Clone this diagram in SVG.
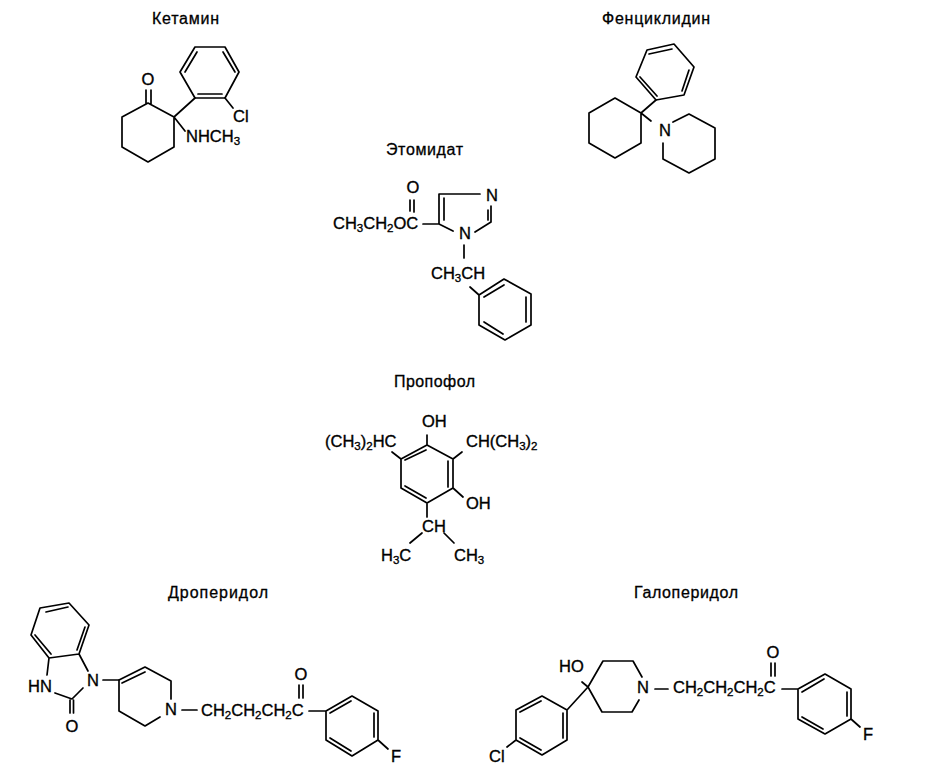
<svg xmlns="http://www.w3.org/2000/svg" width="927" height="780" viewBox="0 0 927 780">
<style>
text{font-family:"Liberation Sans",Arial,sans-serif;fill:#000;stroke:#000;stroke-width:.35}
.t{font-size:16px;stroke-width:.3}
.a{font-size:16.500px}
.s{font-size:11.500px}
path{fill:none;stroke:#000;stroke-width:1.7;stroke-linejoin:round;stroke-linecap:round}
</style>
<rect width="927" height="780" fill="#fff"/>
<g id="ketamine">
<text class="t" x="152" y="24" textLength="67">Кетамин</text>
<path d="M195 47H225L239 72L225 98H195L180 72ZM185 72L197 52M223 52L235 72M198 94H222"/>
<path d="M174 117L148 103L122 117V147L148 162L174 147ZM146 90V103M151 90V104M174 117L195 98M225 98L233 108M174 117L185 131"/>
<text class="a" x="148" y="85" text-anchor="middle">O</text>
<text class="a" x="233" y="122">Cl</text>
<text class="a" x="186" y="142">NHCH<tspan class="s" dy="3">3</tspan></text>
</g>
<g id="phencyclidine">
<text class="t" x="602" y="24" textLength="108">Фенциклидин</text>
<path d="M647 50L674 44L694 67L684 95L656 100L636 77ZM649 54L672 49M689 70L682 91M640 77L657 96"/>
<path d="M641 113L615 98L589 113V143L615 158L641 143ZM641 113L656 100M641 113L651 121"/>
<path d="M673 122L689 114L715 128V159L689 173L663 159V143"/>
<text class="a" x="665" y="136" text-anchor="middle">N</text>
</g>
<g id="etomidate">
<text class="t" x="386" y="155" textLength="77">Этомидат</text>
<text class="a" x="413" y="193" text-anchor="middle">O</text>
<path d="M410 200V211M414 200V212M423 224H439M439 224V194H480M444 198V220M491 206V222M488 210V220M491 222L475 232M453 231L439 224M464 245V258"/>
<text class="a" x="492" y="201" text-anchor="middle">N</text>
<text class="a" x="465" y="239" text-anchor="middle">N</text>
<text class="a" x="333" y="229">CH<tspan class="s" dy="3">3</tspan><tspan dy="-3">CH</tspan><tspan class="s" dy="3">2</tspan><tspan dy="-3">OC</tspan></text>
<text class="a" x="431" y="279">CH<tspan class="s" dy="3">3</tspan><tspan dy="-3">CH</tspan></text>
<path d="M470 287L479 295L504 279L531 294V325L505 340L479 325V295M484 297L504 285M526 297V322M484 322L503 334"/>
</g>
<g id="propofol">
<text class="t" x="394" y="387" textLength="81">Пропофол</text>
<path d="M427 445L453 459V488L427 503L401 488V459ZM405 460L426 450M448 461V487M405 486L426 498M427 445V435M401 459L392 452M453 459L462 452M453 488L463 497M427 503V517M422 533L410 543M444 533L454 543"/>
<text class="a" x="422" y="427">OH</text>
<text class="a" x="325" y="447">(CH<tspan class="s" dy="3">3</tspan><tspan dy="-3">)</tspan><tspan class="s" dy="3">2</tspan><tspan dy="-3">HC</tspan></text>
<text class="a" x="466" y="447">CH(CH<tspan class="s" dy="3">3</tspan><tspan dy="-3">)</tspan><tspan class="s" dy="3">2</tspan></text>
<text class="a" x="466" y="509">OH</text>
<text class="a" x="422" y="532">CH</text>
<text class="a" x="381" y="561">H<tspan class="s" dy="3">3</tspan><tspan dy="-3">C</tspan></text>
<text class="a" x="454" y="561">CH<tspan class="s" dy="3">3</tspan></text>
</g>
<g id="droperidol">
<text class="t" x="168" y="598" textLength="100">Дроперидол</text>
<path d="M69 603L40 608L31 635L49 658L79 654L89 625ZM46 612L68 607M35 635L51 654M85 627L77 650M79 654L88 671M49 658L47 675M55 693L72 699L83 688M70 700V713M73.500 700V713M103 680H119"/>
<text class="a" x="28" y="692">HN</text>
<text class="a" x="93" y="686" text-anchor="middle">N</text>
<text class="a" x="72" y="732" text-anchor="middle">O</text>
<path d="M119 680L145 667L171 681V699M160 717L145 726L119 711V680M122 683L145 672M182 710H197"/>
<text class="a" x="171" y="715" text-anchor="middle">N</text>
<text class="a" x="201" y="716">CH<tspan class="s" dy="3">2</tspan><tspan dy="-3">CH</tspan><tspan class="s" dy="3">2</tspan><tspan dy="-3">CH</tspan><tspan class="s" dy="3">2</tspan><tspan dy="-3">C</tspan></text>
<text class="a" x="301" y="680" text-anchor="middle">O</text>
<path d="M299 685V698M303 685V698M309 711H326L352 696L378 711V740L352 756L326 740V711M330 713L351 701M374 713V737M330 738L351 751M378 740L388 749"/>
<text class="a" x="391" y="762">F</text>
</g>
<g id="haloperidol">
<text class="t" x="634" y="598" textLength="104">Галоперидол</text>
<text class="a" x="559" y="672">HO</text>
<path d="M588 687L603 661H633L642 677M639 700L632 712H602L588 687M588 687L582 682M655 689H668M588 687L567 710L542 696L516 710V740L542 755L567 740V710M520 712L541 701M520 738L541 750M563 713V738M516 740L507 747"/>
<text class="a" x="643" y="693" text-anchor="middle">N</text>
<text class="a" x="489" y="762">Cl</text>
<text class="a" x="673" y="693">CH<tspan class="s" dy="3">2</tspan><tspan dy="-3">CH</tspan><tspan class="s" dy="3">2</tspan><tspan dy="-3">CH</tspan><tspan class="s" dy="3">2</tspan><tspan dy="-3">C</tspan></text>
<text class="a" x="773" y="658" text-anchor="middle">O</text>
<path d="M771 663V676M775 663V676M782 689H798L825 674L851 689V719L825 734L798 719V689M802 692L824 679M847 692V716M802 717L823 729M851 719L860 727"/>
<text class="a" x="863" y="740">F</text>
</g>
</svg>
